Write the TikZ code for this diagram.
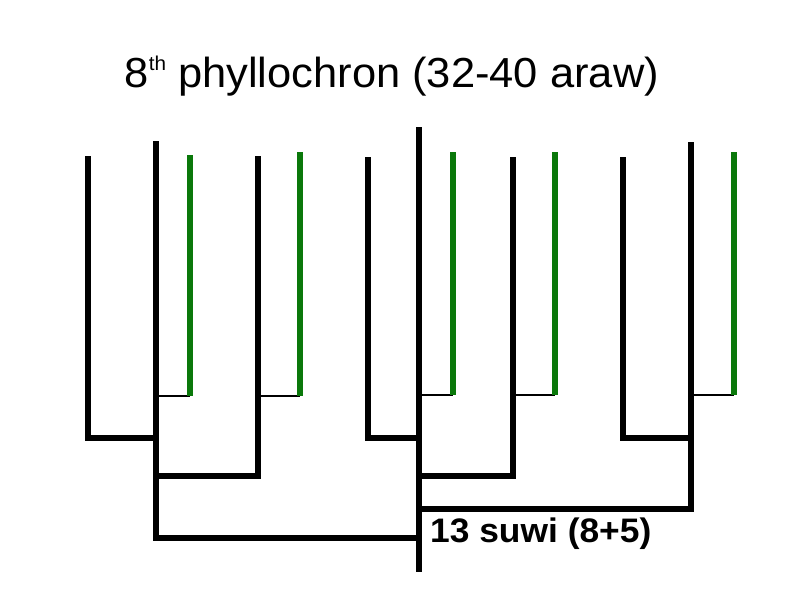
\documentclass[tikz,border=0pt]{standalone}
\usepackage{fontspec}
\setmainfont{Liberation Sans}
\definecolor{leafgreen}{RGB}{10,120,10}
\begin{document}
\begin{tikzpicture}[x=1pt,y=-1pt,
  stem/.style={line width=5.5pt,black,line join=miter,line cap=butt},
  leaf/.style={line width=5.5pt,leafgreen,line cap=butt},
  twig/.style={line width=2pt,black},
  lbl/.style={anchor=base west,inner sep=0pt}]
\useasboundingbox (0,0) rectangle (794,595);
% left group
\coordinate (Btop) at (156,141); \coordinate (Bbot) at (156,538);
\coordinate (Atop) at (88,156);  \coordinate (Abot) at (88,438); \coordinate (Bj1) at (156,438);
\coordinate (G1top) at (190,155); \coordinate (G1bot) at (190,396); \coordinate (Bt1) at (156,396);
\coordinate (Ctop) at (258,156); \coordinate (Cbot) at (258,476); \coordinate (Bj2) at (156,476);
\coordinate (G2top) at (300,152); \coordinate (G2bot) at (300,396); \coordinate (Ct1) at (258,396);
% right group
\coordinate (Etop) at (419,127); \coordinate (Ebot) at (419,572); \coordinate (Ej0) at (419,538);
\coordinate (Dtop) at (368,157); \coordinate (Dbot) at (368,438); \coordinate (Ej1) at (419,438);
\coordinate (G3top) at (453,152); \coordinate (G3bot) at (453,395); \coordinate (Et1) at (419,395);
\coordinate (Ftop) at (513,157); \coordinate (Fbot) at (513,476); \coordinate (Ej2) at (419,476);
\coordinate (G4top) at (555,152); \coordinate (G4bot) at (555,395); \coordinate (Ft1) at (513,395);
\coordinate (Gtop) at (623,157); \coordinate (Gbot) at (623,438); \coordinate (Hj1) at (691,438);
\coordinate (Htop) at (691,142); \coordinate (Hbot) at (691,509); \coordinate (Ej3) at (419,509);
\coordinate (G5top) at (734,152); \coordinate (G5bot) at (734,395); \coordinate (Ht1) at (691,395);

% black stems
\draw[stem] (Btop) -- (Bbot) -- (Ej0);
\draw[stem] (Atop) -- (Abot) -- (Bj1);
\draw[stem] (Ctop) -- (Cbot) -- (Bj2);
\draw[stem] (Etop) -- (Ebot);
\draw[stem] (Dtop) -- (Dbot) -- (Ej1);
\draw[stem] (Ftop) -- (Fbot) -- (Ej2);
\draw[stem] (Gtop) -- (Gbot) -- (Hj1);
\draw[stem] (Htop) -- (Hbot) -- (Ej3);
% twigs
\draw[twig] (Bt1) -- (G1bot);
\draw[twig] (Ct1) -- (G2bot);
\draw[twig] (Et1) -- (G3bot);
\draw[twig] (Ft1) -- (G4bot);
\draw[twig] (Ht1) -- (G5bot);
% green leaves
\draw[leaf] (G1top) -- (G1bot);
\draw[leaf] (G2top) -- (G2bot);
\draw[leaf] (G3top) -- (G3bot);
\draw[leaf] (G4top) -- (G4bot);
\draw[leaf] (G5top) -- (G5bot);

% texts
\node[lbl] (title) at (124.5,87)
  {\scalebox{1.035}[1]{\fontsize{42}{48}\selectfont 8\raisebox{17pt}{\fontsize{20}{20}\selectfont th} phyllochron (32-40 araw)}};
\node[lbl] (suwi) at (430,542)
  {\scalebox{1.04}[1]{\fontsize{34}{40}\selectfont\bfseries 13 suwi (8+5)}};
\end{tikzpicture}
\end{document}
